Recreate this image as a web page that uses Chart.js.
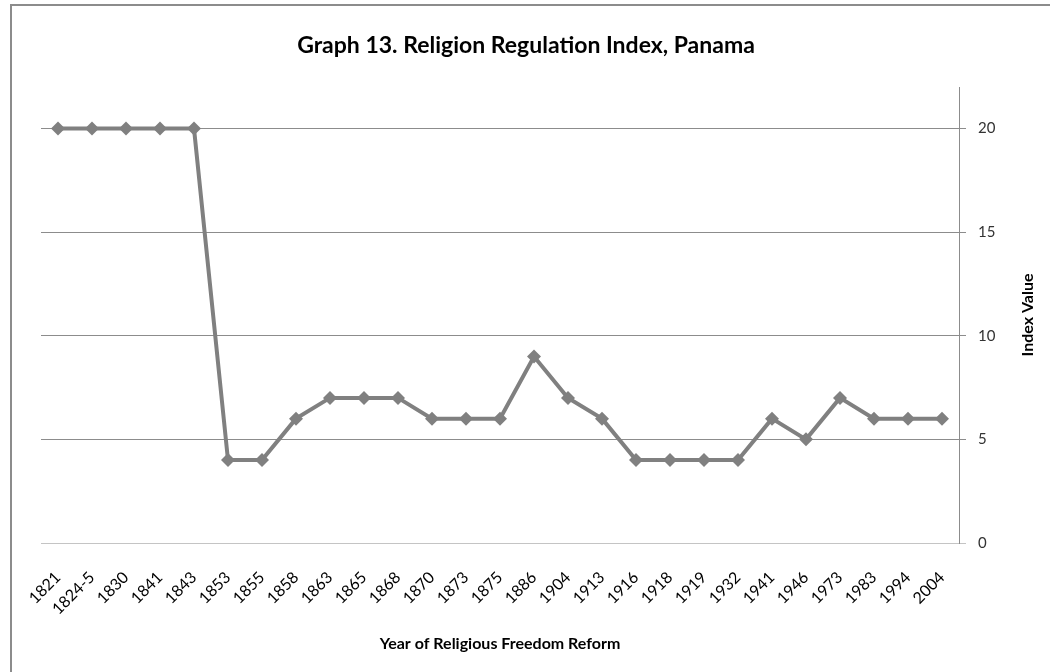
<!DOCTYPE html>
<html>
<head>
<meta charset="utf-8">
<script src="https://cdn.jsdelivr.net/npm/chart.js@4"></script>
<style>
  html, body { margin: 0; padding: 0; background: #fff; }
  #wrap { position: relative; width: 1050px; height: 672px; }
</style>
</head>
<body>
<div id="wrap"><canvas id="myChart" width="1050" height="672"></canvas></div>
<script>
// years of each reform and the index value at that point
const years = ['1821', '1824-5', '1830', '1841', '1843', '1853', '1855', '1858', '1863', '1865',
  '1868', '1870', '1873', '1875', '1886', '1904', '1913', '1916', '1918', '1919',
  '1932', '1941', '1946', '1973', '1983', '1994', '2004'];
const indexValues = [20, 20, 20, 20, 20, 4, 4, 6, 7, 7,
  7, 6, 6, 6, 9, 7, 6, 4, 4, 4,
  4, 6, 5, 7, 6, 6, 6];
const yTicks = [0, 5, 10, 15, 20];

const titleText = 'Graph 13. Religion Regulation Index, Panama';
const xTitle = 'Year of Religious Freedom Reform';
const yTitle = 'Index Value';

const FONT = 'Lato, "Open Sans", sans-serif';
const lineGray = '#808080';

// frame + titles drawn by hand (the y title reads bottom-up, Chart.js won't do that on a right axis)
const extras = {
  id: 'extras',
  beforeDraw(chart) {
    const c = chart.ctx;
    c.save();
    c.fillStyle = '#8c8c8c';
    c.fillRect(10, 4, 1040, 2);
    c.fillRect(10, 4, 2, 668);
    c.restore();
  },
  afterDraw(chart) {
    const c = chart.ctx;
    const area = chart.chartArea;
    c.save();
    c.fillStyle = '#000';
    c.textAlign = 'center';
    c.textBaseline = 'middle';
    c.font = 'bold 23px ' + FONT;
    c.fillText(titleText, 526, 46);

    c.font = 'bold 16px ' + FONT;
    c.fillText(xTitle, (area.left + area.right) / 2, 644);

    c.translate(1028, 315);
    c.rotate(-Math.PI / 2);
    c.fillText(yTitle, 0, 0);
    c.restore();
  }
};

const ctx = document.getElementById('myChart').getContext('2d');
const myChart = new Chart(ctx, {
  type: 'line',
  data: {
    labels: years,
    datasets: [{
      label: yTitle,
      data: indexValues,
      borderColor: lineGray,
      backgroundColor: lineGray,
      borderWidth: 4,
      pointStyle: 'rectRot',
      pointRadius: 7,
      pointBorderWidth: 0,
      pointBackgroundColor: lineGray,
      tension: 0
    }]
  },
  options: {
    responsive: false,
    animation: false,
    layout: { padding: { left: 41, right: 0, top: 87, bottom: 0 } },
    plugins: {
      legend: { display: false },
      title: { display: false },
      tooltip: { enabled: false }
    },
    scales: {
      x: {
        offset: true,
        grid: { display: false, drawTicks: false },
        border: { display: false },
        ticks: {
          minRotation: 45,
          maxRotation: 45,
          autoSkip: false,
          padding: 25,
          color: '#000',
          font: { family: FONT, size: 16 }
        },
        afterFit(scale) {
          scale.height = 672 - 543;
          scale.paddingLeft = 0;
          scale.paddingRight = 0;
        }
      },
      y: {
        position: 'right',
        min: 0,
        max: 22,
        afterBuildTicks(scale) {
          scale.ticks = yTicks.map(v => ({ value: v }));
        },
        grid: {
          color: c => (c.tick && c.tick.value === 0) ? '#c4c4c4' : '#8c8c8c',
          lineWidth: 1,
          tickLength: 7,
          drawTicks: true
        },
        border: { display: true, color: '#8c8c8c', width: 1 },
        ticks: {
          padding: 12,
          color: '#333',
          font: { family: FONT, size: 15 }
        },
        afterFit(scale) {
          scale.width = 1050 - 959;
          scale.paddingTop = 0;
          scale.paddingBottom = 0;
        }
      }
    }
  },
  plugins: [extras]
});
</script>
</body>
</html>
